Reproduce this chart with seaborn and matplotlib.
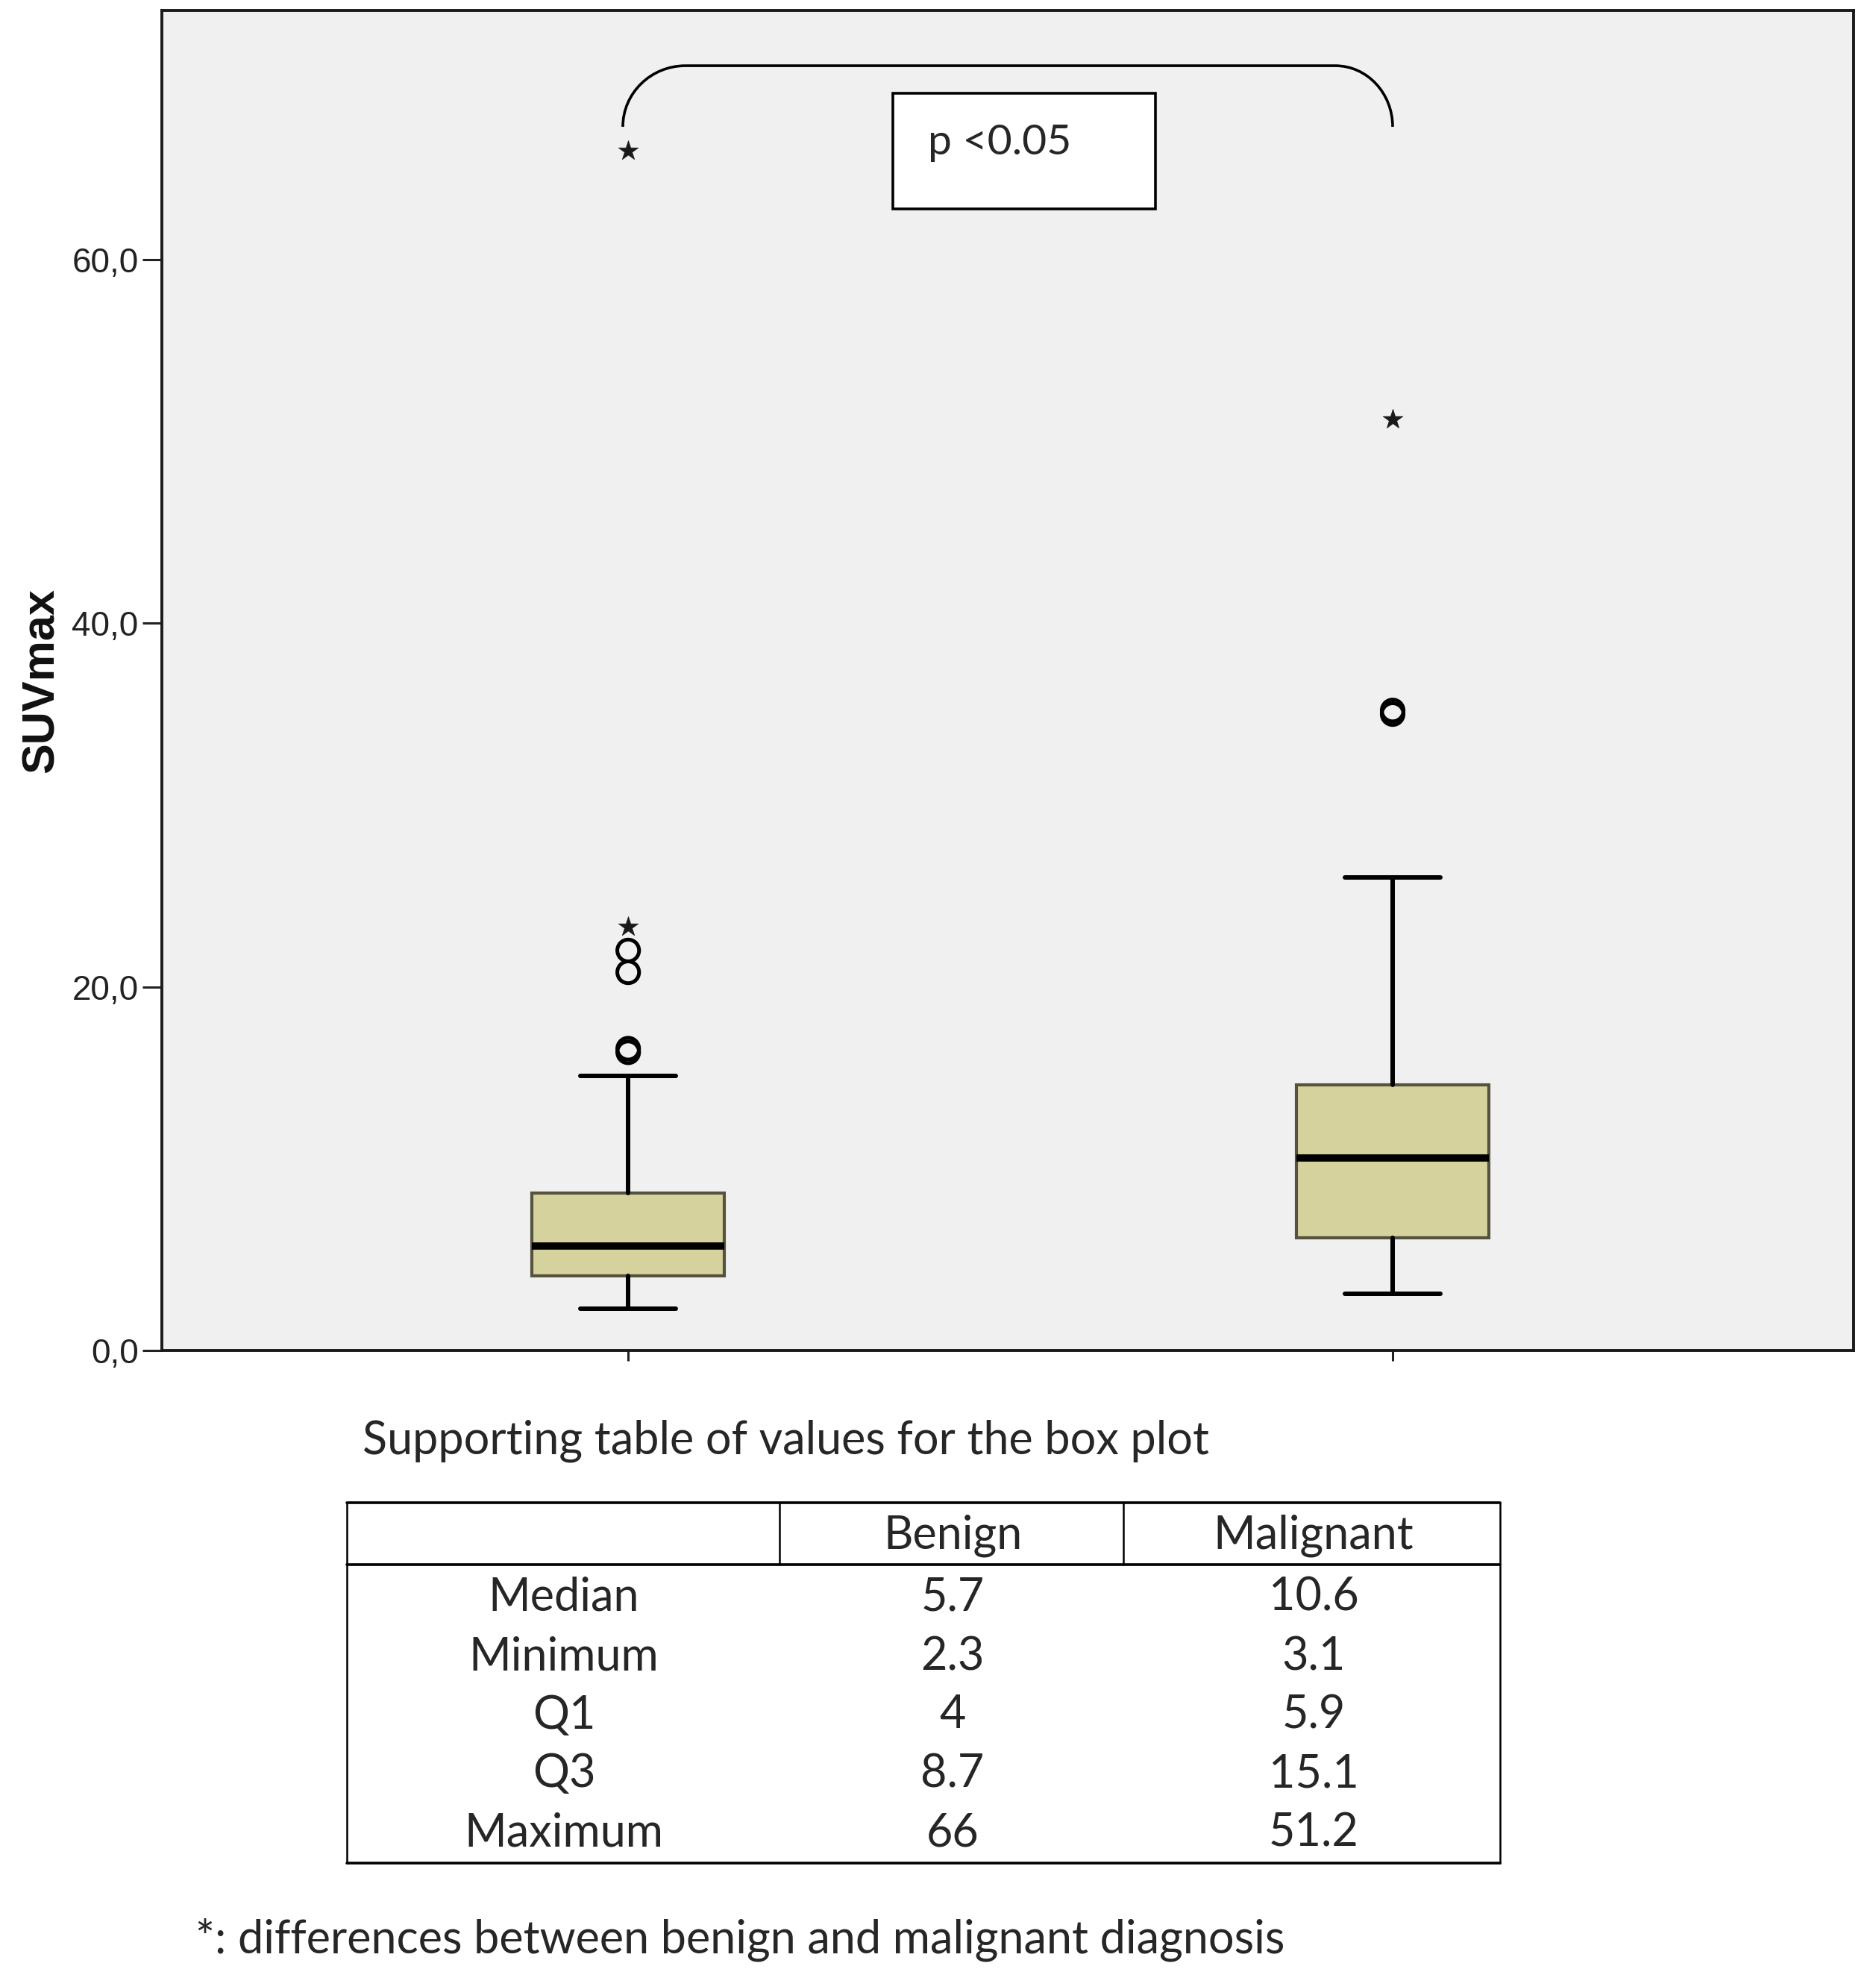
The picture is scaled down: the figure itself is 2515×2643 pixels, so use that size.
import matplotlib
matplotlib.use("Agg")
import matplotlib.pyplot as plt
from matplotlib.path import Path
from matplotlib.patches import PathPatch, Rectangle
from matplotlib.ticker import FuncFormatter
import seaborn as sns
import pandas as pd

# ---------------- data ----------------
groups = ["Benign", "Malignant"]
whisker_low = [2.3, 3.1]
q1_vals = [4.1, 6.2]
median_vals = [5.75, 10.6]
q3_vals = [8.65, 14.6]
whisker_high = [15.1, 26.0]

benign_circles = [16.4, 16.6, 20.8, 22.0]
benign_stars = [23.3, 66.0]
malignant_circles = [35.0, 35.2]
malignant_stars = [51.2]

y_ticks = [0, 20, 40, 60]
p_text = "p <0.05"
y_label = "SUVmax"

table_title = "Supporting table of values for the box plot"
table_rows = ["Median", "Minimum", "Q1", "Q3", "Maximum"]
table_benign = ["5.7", "2.3", "4", "8.7", "66"]
table_malignant = ["10.6", "3.1", "5.9", "15.1", "51.2"]
footnote = "*: differences between benign and malignant diagnosis"

# ---------------- style ----------------
sns.set_style("ticks")
plt.rcParams["font.family"] = ["Liberation Sans", "DejaVu Sans"]

W, H = 2515, 2643
fig = plt.figure(figsize=(W / 100, H / 100), dpi=100)
fig.patch.set_facecolor("white")

ax = fig.add_axes([217 / W, 1 - 1810 / H, (2485 - 217) / W, (1810 - 14) / H])
ax.set_facecolor("#f0f0f0")

stats = []
for i, g in enumerate(groups):
    stats.append(dict(label=g, whislo=whisker_low[i], q1=q1_vals[i], med=median_vals[i],
                      q3=q3_vals[i], whishi=whisker_high[i], fliers=[]))

ax.bxp(stats, positions=[0, 1], widths=0.252, capwidths=0.125, patch_artist=True,
       showfliers=False,
       boxprops=dict(facecolor="#d5d29d", edgecolor="#55533d", linewidth=3.0),
       medianprops=dict(color="black", linewidth=7.0, solid_capstyle="butt"),
       whiskerprops=dict(color="black", linewidth=4.3),
       capprops=dict(color="black", linewidth=4.3),
       manage_ticks=False, zorder=2)

circ = pd.DataFrame({
    "x": [0] * len(benign_circles) + [1] * len(malignant_circles),
    "y": benign_circles + malignant_circles,
})
stars = pd.DataFrame({
    "x": [0] * len(benign_stars) + [1] * len(malignant_stars),
    "y": benign_stars + malignant_stars,
})
sns.scatterplot(data=circ, x="x", y="y", ax=ax, marker="o", s=21 ** 2,
                facecolors="none", edgecolor="black", linewidth=3.6, zorder=3)
sns.scatterplot(data=stars, x="x", y="y", ax=ax, marker="*", s=20 ** 2,
                color="#1a1a1a", edgecolor="#1a1a1a", linewidth=0.5, zorder=3)

ax.set_xlim(-0.610, 1.603)
ax.set_ylim(0, 73.7)
ax.set_xticks([0, 1])
ax.set_xticklabels(["", ""])
ax.set_yticks(y_ticks)
ax.yaxis.set_major_formatter(FuncFormatter(lambda v, p: f"{v:.1f}".replace(".", ",")))
ax.tick_params(axis="y", length=19, width=2.2, pad=3.5, labelsize=33,
               colors="#222222", direction="out")
ax.tick_params(axis="x", length=10, width=2.2, colors="#222222", direction="out")
ax.set_xlabel("")
ax.set_ylabel(y_label, fontsize=44, fontweight="bold", color="#111111")
ax.yaxis.set_label_coords(-0.0585, 0.5)
for s in ax.spines.values():
    s.set_linewidth(2.8)
    s.set_color("#1a1a1a")
    s.set_visible(True)

# bracket
x0, x1, xa, xb = -0.007, 1.0, 0.075, 0.925
yb, yt = 67.3, 70.66
k = 0.552
verts = [(x0, yb),
         (x0, yb + k * (yt - yb)), (xa - k * (xa - x0), yt), (xa, yt),
         (xb, yt),
         (xb + k * (x1 - xb), yt), (x1, yb + k * (yt - yb)), (x1, yb)]
codes = [Path.MOVETO, Path.CURVE4, Path.CURVE4, Path.CURVE4, Path.LINETO,
         Path.CURVE4, Path.CURVE4, Path.CURVE4]
ax.add_patch(PathPatch(Path(verts, codes), facecolor="none", edgecolor="black",
                       linewidth=2.6, zorder=4))

ax.add_patch(Rectangle((0.346, 62.8), 0.690 - 0.346, 69.14 - 62.8, facecolor="white",
                       edgecolor="black", linewidth=2.6, zorder=4))
ax.text(0.392, 66.4, p_text, fontsize=41, family=["Lato", "DejaVu Sans"],
        va="center", ha="left", zorder=5)

# ---------------- supporting table ----------------
tx = fig.add_axes([0, 0, 1, 1], zorder=-1)
tx.set_xlim(0, W)
tx.set_ylim(H, 0)
tx.axis("off")
tf = ["Lato", "DejaVu Sans"]
fs = 44

tx.text(486, 1931, table_title, fontsize=fs, family=tf, ha="left", va="center")

L, R, T, B = 465, 2011, 2014, 2497
hdr = 2097
c1, c2 = 1045, 1506
tx.plot([L, R], [T, T], color="black", lw=2.6)
tx.plot([L, R], [hdr, hdr], color="black", lw=2.6)
tx.plot([L, R], [B, B], color="black", lw=2.6)
tx.plot([L, L], [T, B], color="black", lw=1.8)
tx.plot([R, R], [T, B], color="black", lw=1.8)
tx.plot([c1, c1], [T, hdr], color="black", lw=1.8)
tx.plot([c2, c2], [T, hdr], color="black", lw=1.8)

xc_lab, xc_b, xc_m = 756, 1277, 1761
tx.text(xc_b, 2058, groups[0], fontsize=fs, family=tf, ha="center", va="center")
tx.text(xc_m, 2058, groups[1], fontsize=fs, family=tf, ha="center", va="center")
row_y = [2141, 2221, 2299, 2378, 2457]
for i, lab in enumerate(table_rows):
    tx.text(xc_lab, row_y[i], lab, fontsize=fs, family=tf, ha="center", va="center")
    tx.text(xc_b, row_y[i], table_benign[i], fontsize=fs, family=tf, ha="center", va="center")
    tx.text(xc_m, row_y[i], table_malignant[i], fontsize=fs, family=tf, ha="center", va="center")

tx.text(262, 2600, footnote, fontsize=fs, family=tf, ha="left", va="center")

fig.savefig("out.png", dpi=100, facecolor="white")
